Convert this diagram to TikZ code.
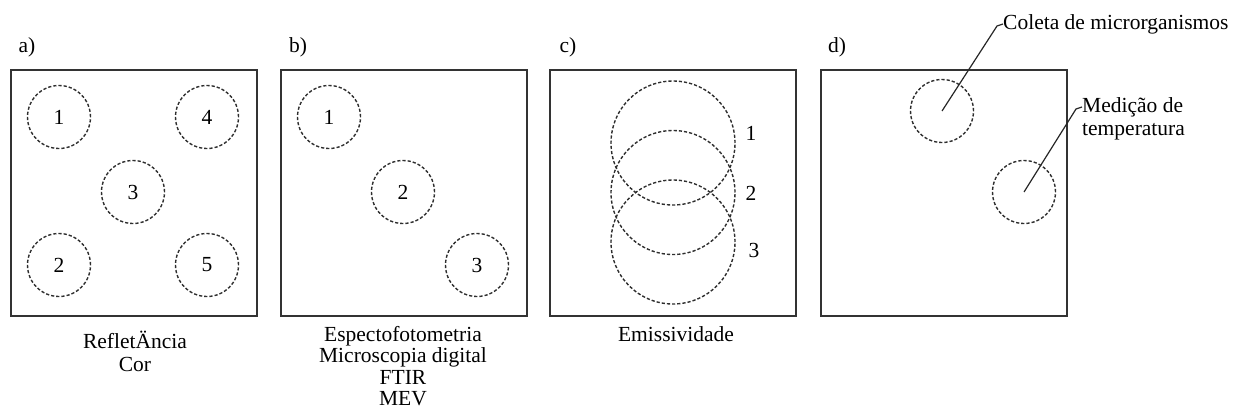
\documentclass[tikz,border=0pt]{standalone}
\usepackage{fontspec}
\setmainfont{Liberation Serif}
\begin{document}
\begin{tikzpicture}[x=1pt,y=-1pt,
  panel/.style={draw=black!80, line width=2pt, minimum width=246pt, minimum height=246pt, inner sep=0pt},
  spot/.style={circle, draw=black!82, line width=1.4pt, dash pattern=on 3.2pt off 2pt, minimum size=63pt, inner sep=0pt, font=\fontsize{21.5}{24}\selectfont},
  bigspot/.style={spot, minimum size=124pt},
  txt/.style={inner sep=0pt, font=\fontsize{21.5}{23}\selectfont, align=center},
  leader/.style={draw=black!85, line width=1.2pt}
]
\useasboundingbox (0,0) rectangle (1233,418);

% panel labels
\node[txt] (la) at (27,47) {a)};
\node[txt] (lb) at (298,47) {b)};
\node[txt] (lc) at (568,47) {c)};
\node[txt] (ld) at (837,47) {d)};

% panel a
\node[panel] (boxA) at (133.5,192.5) {};
\node[spot] (a1) at (59,117) {1};
\node[spot] (a4) at (207,117) {4};
\node[spot] (a3) at (133,192) {3};
\node[spot] (a2) at (59,265) {2};
\node[spot] (a5) at (207,265) {5};
\node[txt] (capA) at (135,351) {RefletÄncia\\Cor};

% panel b
\node[panel] (boxB) at (403.5,192.5) {};
\node[spot] (b1) at (329,117) {1};
\node[spot] (b2) at (403,192) {2};
\node[spot] (b3) at (477,265) {3};
\node[txt, font=\fontsize{21.5}{21.5}\selectfont] (capB) at (403,366) {Espectofotometria\\Microscopia digital\\FTIR\\MEV};

% panel c
\node[panel] (boxC) at (673,192.5) {};
\node[bigspot] (c1) at (673,143) {};
\node[bigspot] (c2) at (673,192.5) {};
\node[bigspot] (c3) at (673,242) {};
\node[txt] (n1) at (751,133) {1};
\node[txt] (n2) at (751,193) {2};
\node[txt] (n3) at (754,250) {3};
\node[txt] (capC) at (676,334) {Emissividade};

% panel d
\node[panel] (boxD) at (943.5,192.5) {};
\node[spot] (d1) at (942,111) {};
\node[spot] (d2) at (1024,192) {};
\coordinate (k1) at (997,26);
\node[txt, anchor=west] (t1) at (1003,24) {Coleta de microrganismos};
\draw[leader] (d1.center) -- (k1) -- (t1.west);
\coordinate (k2) at (1076,109);
\coordinate (e2) at (1082,107);
\node[txt, anchor=west, align=left] (t2) at (1082,119) {Medição de\\temperatura};
\draw[leader] (d2.center) -- (k2) -- (e2);
\end{tikzpicture}
\end{document}
